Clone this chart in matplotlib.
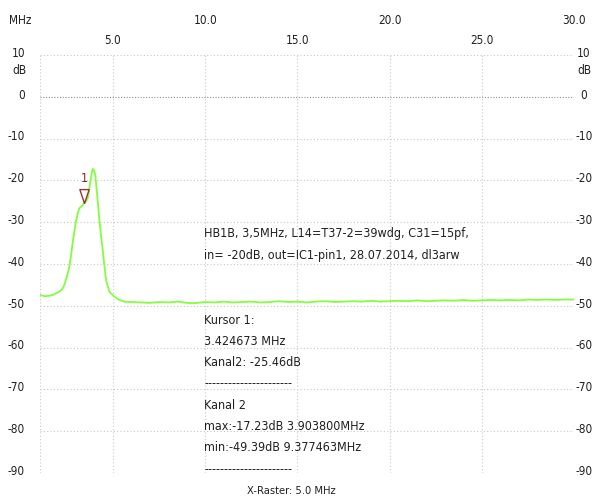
import matplotlib.pyplot as plt
from matplotlib.transforms import blended_transform_factory

# spectrum trace (MHz, dB)
freq = [1.04, 1.3, 1.55, 1.8, 2.09, 2.25, 2.36, 2.5, 2.63, 2.72, 2.81, 2.9, 2.99, 3.08, 3.17, 3.36,
        3.42, 3.5, 3.63, 3.7, 3.75, 3.83, 3.9, 3.97, 4.04, 4.15, 4.26, 4.35, 4.44, 4.53, 4.62, 4.8,
        5.07, 5.3, 5.61, 6.0, 6.5, 7.0, 7.5, 8.0, 8.5, 9.0, 9.38, 10.0, 10.5, 11.0, 11.5, 12.0,
        12.5, 13.0, 13.5, 14.0, 14.5, 15.0, 15.5, 16.0, 16.5, 17.0, 17.5, 18.0, 18.5,
        19.0, 19.5, 20.0, 20.5, 21.0, 21.5, 22.0, 22.5, 23.0, 23.5, 24.0, 24.5, 25.0,
        25.5, 26.0, 26.5, 27.0, 27.5, 28.0, 28.5, 29.0, 29.5, 30.0]
level = [-47.4, -47.7, -47.6, -47.3, -46.6, -46.0, -45.0, -43.0, -40.6, -38.0, -35.0, -32.3, -29.9, -28.0, -26.7, -25.9,
         -25.46, -25.3, -24.3, -22.6, -20.7, -18.6, -17.23, -17.6, -18.7, -24.0, -29.5, -33.2, -36.6, -40.3, -43.8, -46.6,
         -47.8, -48.5, -49.0, -49.1, -49.2, -49.3, -49.1, -49.2, -49.0, -49.3, -49.39, -49.1, -49.2, -49.0, -49.2, -49.1,
         -49.0, -49.2, -49.1, -48.9, -49.1, -49.0, -49.2, -49.0, -48.9, -49.1, -49.0, -48.9, -49.0,
         -48.8, -49.0, -48.9, -48.8, -48.9, -48.7, -48.9, -48.8, -48.7, -48.8, -48.6, -48.8, -48.7,
         -48.6, -48.7, -48.6, -48.7, -48.5, -48.6, -48.5, -48.6, -48.5, -48.5]

cursor_f, cursor_db = 3.424673, -25.46

x_top = [10, 20, 30]
x_low = [5, 15, 25]
y_ticks = [10, 0, -10, -20, -30, -40, -50, -60, -70, -80, -90]

notes = ["HB1B, 3,5MHz, L14=T37-2=39wdg, C31=15pf,",
         "in= -20dB, out=IC1-pin1, 28.07.2014, dl3arw"]
cursor_lines = ["Kursor 1:", "3.424673 MHz", "Kanal2: -25.46dB", "----------------------",
                "Kanal 2", "max:-17.23dB 3.903800MHz", "min:-49.39dB 9.377463MHz",
                "----------------------"]

plt.rcParams['font.family'] = ['DejaVu Sans']
plt.rcParams['font.stretch'] = 'condensed'

W, H = 599, 503
fig = plt.figure(figsize=(W / 100, H / 100), dpi=100)
ax = fig.add_axes([40 / W, 1 - 473 / H, (574 - 40) / W, (473 - 55) / H])
ax.set_xlim(1.04, 30)
ax.set_ylim(-90, 10)
for s in ax.spines.values():
    s.set_visible(False)
ax.set_xticks([])
ax.set_yticks([])

# dotted raster
grid_kw = dict(color='#c8c8c8', lw=0.8, ls=(0, (1, 2)), zorder=1)
for v in [1.04] + sorted(x_top + x_low):
    ax.axvline(v, **grid_kw)
for v in y_ticks:
    if v == 0:
        ax.axhline(v, color='#909090', lw=0.8, ls=(0, (1, 1.5)), zorder=1)
    else:
        ax.axhline(v, **grid_kw)

ax.plot(freq, level, color='#80ff40', lw=1.3, zorder=3)

# cursor marker
ax.plot([cursor_f], [cursor_db], marker=[(0, 0), (-0.4, 1.2), (0.4, 1.2), (0, 0)],
        ms=20, mfc='none', mec='#a03030', mew=1.0, zorder=4)
ax.annotate('1', xy=(cursor_f, cursor_db), xytext=(0, 13), textcoords='offset points',
            ha='center', va='bottom', fontsize=9, color='#902020')

# axis labels
tc = dict(fontsize=8.5, color='#202020')
tx = blended_transform_factory(ax.transData, fig.transFigure)
for v in x_top:
    ax.text(v, 1 - 20 / H, f"{v:.1f}", transform=tx, ha='center', va='center', **tc)
for v in x_low:
    ax.text(v, 1 - 41 / H, f"{v:.1f}", transform=tx, ha='center', va='center', **tc)
fig.text(20 / W, 1 - 20 / H, "MHz", ha='center', va='center', **tc)

ty = blended_transform_factory(fig.transFigure, ax.transData)
for v in y_ticks:
    ax.text(25 / W, v + 0.4, f"{v}", transform=ty, ha='right', va='center', **tc)
    ax.text(584 / W, v + 0.4, f"{v}", transform=ty, ha='center', va='center', **tc)
ax.text(19 / W, 6.2, "dB", transform=ty, ha='center', va='center', **tc)
ax.text(584 / W, 6.2, "dB", transform=ty, ha='center', va='center', **tc)

fig.text(291 / W, 1 - 491 / H, "X-Raster: 5.0 MHz", ha='center', va='center', fontsize=8, color='#202020')

# info text
for i, t in enumerate(notes):
    fig.text(204 / W, 1 - (233 + 22 * i) / H, t, ha='left', va='center', fontsize=9, color='#202020')
for i, t in enumerate(cursor_lines):
    fig.text(204 / W, 1 - (320 + 21.3 * i) / H, t, ha='left', va='center', fontsize=9, color='#202020')

fig.savefig('out.png', dpi=100)
